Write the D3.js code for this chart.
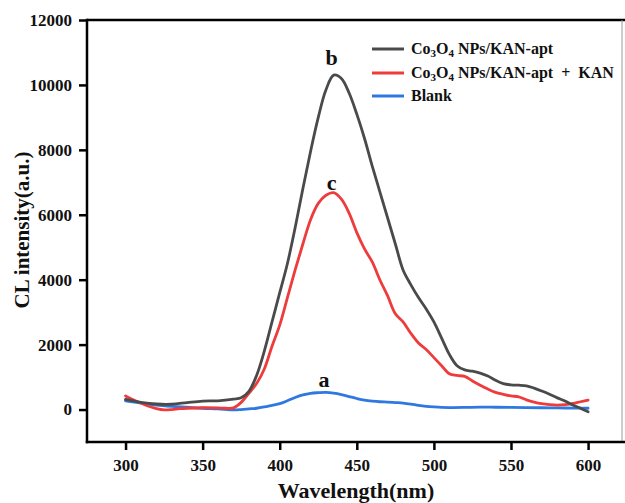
<!DOCTYPE html>
<html>
<head>
<meta charset="utf-8">
<script src="https://cdn.jsdelivr.net/npm/d3@7"></script>
<style>
  html, body { margin: 0; padding: 0; background: #fff; }
  svg { display: block; }
  text { font-family: "Liberation Serif", "Times New Roman", serif; font-weight: bold; fill: #111; }
</style>
</head>
<body>
<svg id="chart" width="625" height="503"></svg>
<script>
// Wavelength sampling points (nm) and CL intensity values (a.u.) for each spectrum
const wlB = [300,310,320,330,340,350,360,370,375,380,385,390,395,400,405,410,415,420,425,430,435,440,445,450,455,460,465,470,475,480,485,490,495,500,505,510,515,520,525,530,535,540,545,550,555,560,565,570,575,580,585,590,595,600];
const apt = [310,220,170,165,215,260,270,320,360,560,1050,1800,2700,3600,4500,5600,6800,7950,9000,9850,10300,10200,9750,9100,8350,7500,6700,5900,5100,4300,3850,3450,3100,2700,2200,1700,1350,1220,1180,1120,1030,900,800,760,750,730,660,570,470,360,260,140,40,-70];

const wlC = [300,305,310,315,320,325,330,335,340,350,360,365,370,375,380,385,390,395,400,405,410,415,420,425,430,435,440,445,450,455,460,465,470,475,480,485,490,495,500,505,510,515,520,525,530,535,540,545,550,555,560,565,570,575,580,585,590,595,600];
const aptKan = [420,300,200,100,30,-10,0,25,40,55,50,40,50,220,500,800,1250,1950,2600,3450,4300,5100,5850,6350,6600,6680,6480,6050,5450,4950,4550,3990,3500,2950,2700,2350,2050,1850,1600,1350,1100,1050,1020,880,750,630,530,470,420,390,300,230,180,150,135,150,190,240,290];

const wlA = [300,310,320,330,340,350,360,370,375,380,385,390,395,400,405,410,415,420,425,430,435,440,445,450,455,460,465,470,475,480,485,490,495,500,505,510,520,530,540,550,560,570,580,590,600];
const blank = [270,200,140,100,70,40,20,-10,0,20,40,80,130,180,270,370,450,500,520,530,505,460,400,340,290,260,240,230,215,200,170,130,100,80,65,60,65,75,70,65,60,55,50,45,40];

const xTicks = [300,350,400,450,500,550,600];
const yTicks = [0,2000,4000,6000,8000,10000,12000];

const seriesNames = ["Co3O4 NPs/KAN-apt", "Co3O4 NPs/KAN-apt + KAN", "Blank"];
const seriesColors = ["#4a4a4a", "#ee3b3b", "#2f78e0"];
const curveTags = ["b", "c", "a"];
const tagGap = [10, 3, 5];

const svg = d3.select("#chart");
const pl = 87, pr = 622, pt = 20, pb = 442;

const x = d3.scaleLinear().domain([275, 622]).range([pl, pr]);
const y = d3.scaleLinear().domain([-1000, 12000]).range([pb, pt]);

// frame: top edge and right edge
svg.append("line").attr("x1", pl).attr("x2", 625).attr("y1", pt).attr("y2", pt)
  .attr("stroke", "#000").attr("stroke-width", 2.5);
svg.append("line").attr("x1", pr).attr("x2", pr).attr("y1", pt).attr("y2", pb)
  .attr("stroke", "#9a9a9a").attr("stroke-width", 1);

// axes
const xAxis = svg.append("g").attr("transform", `translate(0,${pb})`)
  .call(d3.axisBottom(x).tickValues(xTicks).tickFormat(d3.format("d"))
    .tickSize(8).tickSizeOuter(0).tickPadding(9));
const yAxis = svg.append("g").attr("transform", `translate(${pl},0)`)
  .call(d3.axisLeft(y).tickValues(yTicks).tickFormat(d3.format("d"))
    .tickSize(8).tickSizeOuter(0).tickPadding(7));

[xAxis, yAxis].forEach(g => {
  g.attr("font-family", null).attr("font-size", null);
  g.select(".domain").attr("stroke", "#000").attr("stroke-width", 2.5);
  g.selectAll(".tick line").attr("stroke", "#000").attr("stroke-width", 2.5);
  g.selectAll(".tick text").attr("font-size", 17)
    .style("font-family", '"Liberation Serif", "Times New Roman", serif')
    .style("font-weight", "bold").attr("fill", "#111");
});
// extend axis lines across corners
xAxis.select(".domain").attr("d", `M${pl - 1.25},0H${625}`);
yAxis.select(".domain").attr("d", `M0,${pt - 1.25}V${pb + 1.25}`);

// axis titles
svg.append("text").attr("x", 356).attr("y", 498)
  .attr("text-anchor", "middle").attr("font-size", 22).text("Wavelength(nm)");
svg.append("text").attr("transform", `translate(29,230) rotate(-90)`)
  .attr("text-anchor", "middle").attr("font-size", 21).text("CL intensity(a.u.)");

// spectra
const line = d3.line().x(d => x(d[0])).y(d => y(d[1])).curve(d3.curveCatmullRom.alpha(0.5));
const data = [d3.zip(wlB, apt), d3.zip(wlC, aptKan), d3.zip(wlA, blank)];
const drawOrder = [2, 1, 0];
drawOrder.forEach(i => {
  svg.append("path").datum(data[i]).attr("d", line)
    .attr("fill", "none").attr("stroke", seriesColors[i]).attr("stroke-width", 2.8)
    .attr("stroke-linejoin", "round").attr("stroke-linecap", "round");
});

// curve tags above each maximum
data.forEach((d, i) => {
  const peak = d3.greatest(d, p => p[1]);
  svg.append("text").attr("x", x(peak[0]) - 2).attr("y", y(peak[1]) - tagGap[i])
    .attr("text-anchor", "middle").attr("font-size", 22).text(curveTags[i]);
});

// legend
const legend = svg.append("g");
const legendY = [49, 73, 96];
seriesNames.forEach((name, i) => {
  legend.append("line").attr("x1", 372).attr("x2", 404).attr("y1", legendY[i]).attr("y2", legendY[i])
    .attr("stroke", seriesColors[i]).attr("stroke-width", 3);
  const t = legend.append("text").attr("x", 411).attr("y", legendY[i] + 5).attr("font-size", 16);
  if (name.startsWith("Co3O4")) {
    t.append("tspan").text("Co");
    t.append("tspan").attr("font-size", 11).attr("dy", 3).text("3");
    t.append("tspan").attr("dy", -3).text("O");
    t.append("tspan").attr("font-size", 11).attr("dy", 3).text("4");
    t.append("tspan").attr("dy", -3).text(name.slice(5).replace(" + ", "\u00a0\u00a0+\u00a0\u00a0"));
  } else {
    t.text(name);
  }
});
</script>
</body>
</html>
